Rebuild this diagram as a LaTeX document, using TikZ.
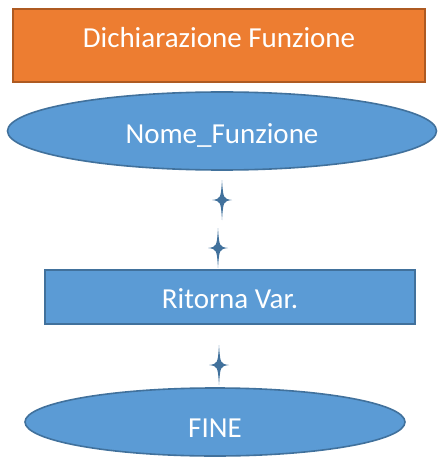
\documentclass[tikz,border=0pt]{standalone}
\usepackage{fontspec}
\setmainfont{Carlito}
\usepackage{xcolor}
\usetikzlibrary{shapes.geometric}

\definecolor{boxOrange}{HTML}{ED7D31}
\definecolor{edgeOrange}{HTML}{AE5A21}
\definecolor{boxBlue}{HTML}{5B9BD5}
\definecolor{edgeBlue}{HTML}{41719C}

\begin{document}
\begin{tikzpicture}[x=1pt,y=-1pt,
    boxlabel/.style={text=white, font=\fontsize{29}{34}\selectfont, inner sep=0pt, line width=1.6pt},
    textlift/.style={text height=#1, text depth=0pt},
    orangebox/.style={boxlabel, rectangle, fill=boxOrange, draw=edgeOrange},
    bluebox/.style={boxlabel, rectangle, fill=boxBlue, draw=edgeBlue},
    blueoval/.style={boxlabel, ellipse, fill=boxBlue, draw=edgeBlue}]

    % Fix the page to the size of the reference
    \useasboundingbox (0,0) rectangle (438,457);

    % Draw the blocks of the flow chart
    \node[orangebox, textlift=4.6pt, minimum width=412pt, minimum height=73pt] (decl) at (219,45.5) {Dichiarazione Funzione};
    \node[blueoval, textlift=24.6pt, minimum width=429pt, minimum height=78pt] (nome) at (222,131) {Nome\_Funzione};
    \node[bluebox, textlift=23.6pt, minimum width=370pt, minimum height=54pt] (ritorna) at (230,297) {Ritorna Var.};
    \node[blueoval, textlift=30.6pt, minimum width=380pt, minimum height=68pt] (fine) at (215,422) {FINE};

    % Define the locations of the small stars between the blocks
    \coordinate (s1) at (222,200);
    \coordinate (s2) at (218,248);
    \coordinate (s3) at (219,365);

    % Draw the stars
    \foreach \s in {s1,s2,s3} {
        \fill[edgeBlue] (\s) ++(0,-20) .. controls +(1.3,18.7) .. ++(10,20)
            .. controls +(-8.7,1.3) .. ++(-10,20)
            .. controls +(-1.3,-18.7) .. ++(-10,-20)
            .. controls +(8.7,-1.3) .. cycle;
    }

\end{tikzpicture}
\end{document}
